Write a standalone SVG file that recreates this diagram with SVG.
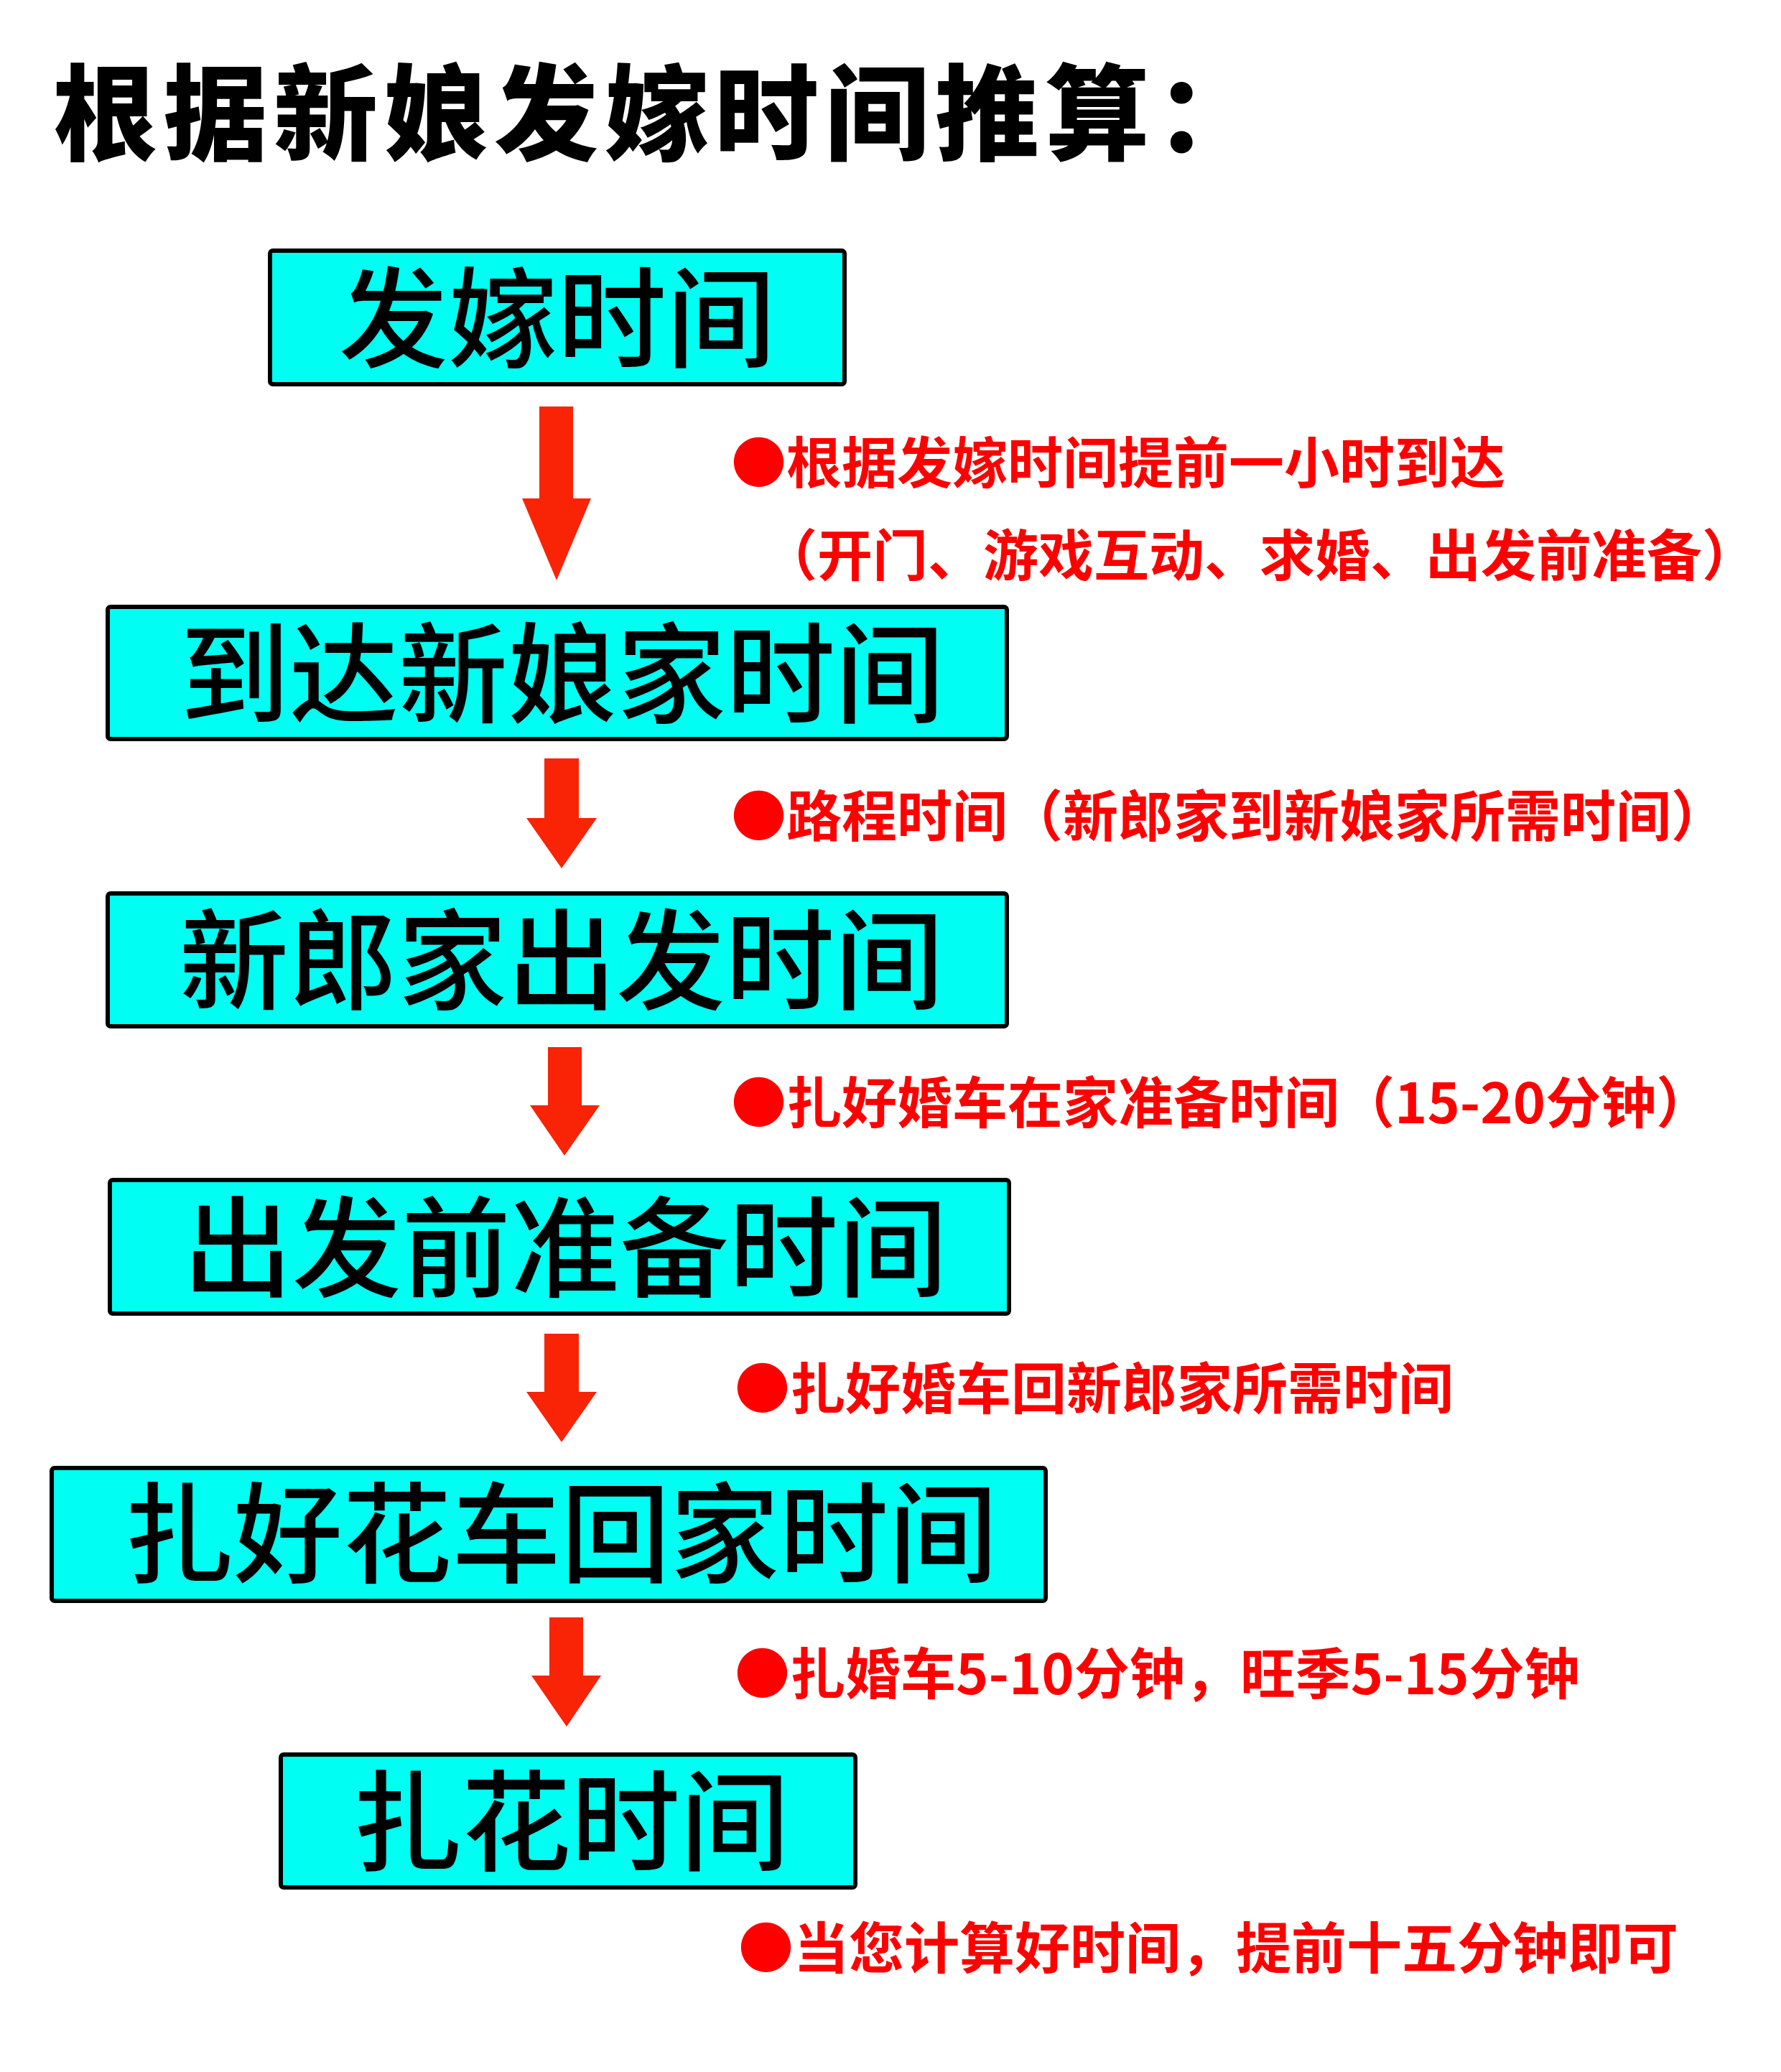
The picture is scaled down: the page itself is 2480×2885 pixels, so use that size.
<svg xmlns="http://www.w3.org/2000/svg" width="2480" height="2885" viewBox="0 0 2480 2885">
<style>
.title{font-family:"Noto Sans CJK SC","Noto Sans CJK JP",sans-serif;font-weight:900;font-size:145px;fill:#000;letter-spacing:8.5px}
.box{fill:#00FFF2;stroke:#000;stroke-width:6}
.lbl{font-family:"Noto Sans CJK SC","Noto Sans CJK JP",sans-serif;font-weight:500;font-size:152px;fill:#000;text-anchor:middle}
.note{font-family:"Noto Sans CJK SC","Noto Sans CJK JP",sans-serif;font-weight:700;font-size:77px;fill:#FF0000}
.arrow{fill:#F92306}
</style>
<rect width="2480" height="2885" fill="#fff"/>
<text class="title" x="74" y="212">根据新娘发嫁时间推算：</text>

<g id="n1"><rect class="box" x="376" y="349" width="800" height="186" rx="4"/><text class="lbl" x="776" y="500">发嫁时间</text></g>
<g id="n2"><rect class="box" x="150" y="845" width="1252" height="184" rx="4"/><text class="lbl" x="783" y="995">到达新娘家时间</text></g>
<g id="n3"><rect class="box" x="150" y="1244" width="1252" height="185" rx="4"/><text class="lbl" x="782" y="1394">新郎家出发时间</text></g>
<g id="n4"><rect class="box" x="153" y="1643" width="1252" height="186" rx="4"/><text class="lbl" x="787" y="1794">出发前准备时间</text></g>
<g id="n5"><rect class="box" x="72" y="2044" width="1384" height="185" rx="4"/><text class="lbl" x="781" y="2192">扎好花车回家时间</text></g>
<g id="n6"><rect class="box" x="391" y="2443" width="800" height="185" rx="4"/><text class="lbl" x="795" y="2593">扎花时间</text></g>

<g id="connectors">
<polygon class="arrow" points="751,566 798,566 798,694 823,694 775,808 727,694 751,694"/>
<polygon class="arrow" points="758,1056 806,1056 806,1139 831,1139 782,1209 733,1139 758,1139"/>
<polygon class="arrow" points="763,1458 810,1458 810,1539 835,1539 786,1609 738,1539 763,1539"/>
<polygon class="arrow" points="758,1857 806,1857 806,1938 831,1938 782,2008 733,1938 758,1938"/>
<polygon class="arrow" points="765,2252 812,2252 812,2333 837,2333 789,2404 740,2333 765,2333"/>
</g>

<g id="notes">
<text class="note" x="1018" y="673">●根据发嫁时间提前一小时到达</text>
<text class="note" x="1061" y="802">（开门、游戏互动、求婚、出发前准备）</text>
<text class="note" x="1018" y="1165">●路程时间（新郎家到新娘家所需时间）</text>
<text class="note" x="1018" y="1564">●扎好婚车在家准备时间（15-20分钟）</text>
<text class="note" x="1023" y="1962">●扎好婚车回新郎家所需时间</text>
<text class="note" x="1023" y="2359">●扎婚车5-10分钟，旺季5-15分钟</text>
<text class="note" x="1028" y="2741">●当您计算好时间，提前十五分钟即可</text>
</g>
</svg>
